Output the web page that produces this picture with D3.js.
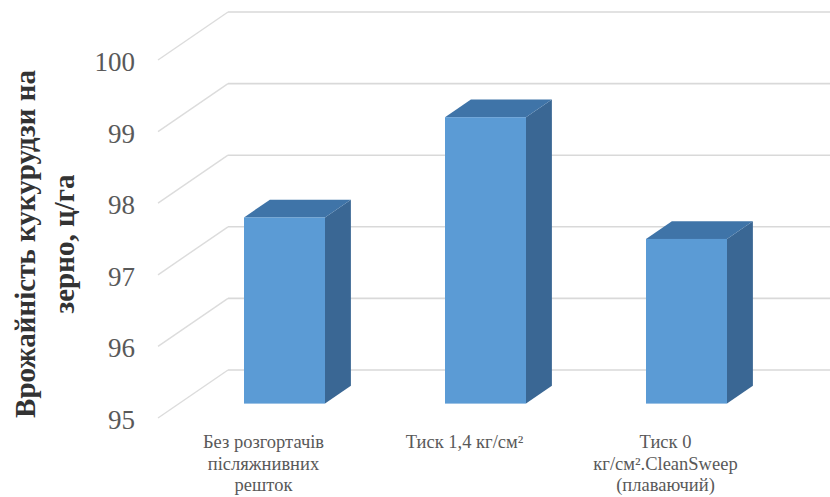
<!DOCTYPE html>
<html>
<head>
<meta charset="utf-8">
<script src="https://cdn.jsdelivr.net/npm/d3@7"></script>
<style>
  html, body { margin: 0; padding: 0; background: #ffffff; }
  svg { display: block; }
  svg text { font-family: "Liberation Serif", "Tinos", "Times New Roman", "DejaVu Serif", serif; }
</style>
</head>
<body>
<svg id="chart" width="830" height="497"></svg>
<script>
// ---- data ----
const categories = [
  "Без розгортачів\nпісляжнивних\nрешток",
  "Тиск 1,4 кг/см²",
  "Тиск 0\nкг/см².CleanSweep\n(плаваючий)"
];
const yieldValues = [97.6, 99.0, 97.3];
const yTicks = [95, 96, 97, 98, 99, 100];
const yTitleLines = ["Врожайність кукурудзи на", "зерно, ц/га"];

// ---- layout ----
const W = 830, H = 497;
const svg = d3.select("#chart");

const wallLeft = 228, wallRight = 830;
const depth = { x: -70, y: 48 };   // back wall -> front of floor
const tBack = 0.33, tFront = 0.70; // bar depth fractions

const y = d3.scaleLinear().domain([95, 100]).range([370, 12]);
const x = d3.scaleBand().domain(categories).range([233, 836])
  .paddingInner(0.597).paddingOuter(0.2985);

// gridlines: back wall + floor/side-wall diagonal
const grid = svg.append("g");
yTicks.forEach(v => {
  const yy = y(v);
  grid.append("line")
    .attr("x1", wallLeft).attr("x2", wallRight)
    .attr("y1", yy).attr("y2", yy)
    .attr("stroke", "#d9d9d9").attr("stroke-width", 1.6);
  grid.append("line")
    .attr("x1", wallLeft + depth.x).attr("y1", yy + depth.y)
    .attr("x2", wallLeft).attr("y2", yy)
    .attr("stroke", "#dcdcdc").attr("stroke-width", 1.4);
});

// y tick labels
svg.append("g").selectAll("text").data(yTicks).join("text")
  .attr("x", 135)
  .attr("y", d => y(d) + depth.y + 2)
  .attr("text-anchor", "end")
  .attr("dominant-baseline", "central")
  .attr("font-size", 27)
  .attr("fill", "#595959")
  .text(d => d);

// bars (3D columns)
const fo = { x: tFront * depth.x, y: tFront * depth.y };
const bo = { x: tBack * depth.x, y: tBack * depth.y };
const base = y(95);
const bars = svg.append("g");
categories.forEach((c, i) => {
  const x0 = x(c), x1 = x0 + x.bandwidth();
  const yt = y(yieldValues[i]);
  bars.append("polygon")
    .attr("points", [
      [x1 + fo.x, yt + fo.y], [x1 + bo.x, yt + bo.y],
      [x1 + bo.x, base + bo.y], [x1 + fo.x, base + fo.y]
    ].map(p => p.join(",")).join(" "))
    .attr("fill", "#3a6794");
  bars.append("polygon")
    .attr("points", [
      [x0 + fo.x, yt + fo.y], [x1 + fo.x, yt + fo.y],
      [x1 + bo.x, yt + bo.y], [x0 + bo.x, yt + bo.y]
    ].map(p => p.join(",")).join(" "))
    .attr("fill", "#3f74a8");
  bars.append("rect")
    .attr("x", x0 + fo.x).attr("y", yt + fo.y)
    .attr("width", x.bandwidth()).attr("height", base - yt)
    .attr("fill", "#5b9bd5");
});

// category labels
const catG = svg.append("g");
categories.forEach(c => {
  const cx = x(c) + x.bandwidth() / 2 + depth.x;
  const t = catG.append("text")
    .attr("text-anchor", "middle")
    .attr("font-size", 18.5)
    .attr("fill", "#595959");
  c.split("\n").forEach((line, k) => {
    t.append("tspan").attr("x", cx).attr("y", 448 + k * 21.5).text(line);
  });
});

// y-axis title
const title = svg.append("text")
  .attr("transform", "translate(0,244) rotate(-90)")
  .attr("text-anchor", "middle")
  .attr("font-size", 29)
  .attr("font-weight", "bold")
  .attr("fill", "#333333");
yTitleLines.forEach((line, k) => {
  title.append("tspan").attr("x", 0).attr("y", 35 + k * 39).text(line);
});
</script>
</body>
</html>
